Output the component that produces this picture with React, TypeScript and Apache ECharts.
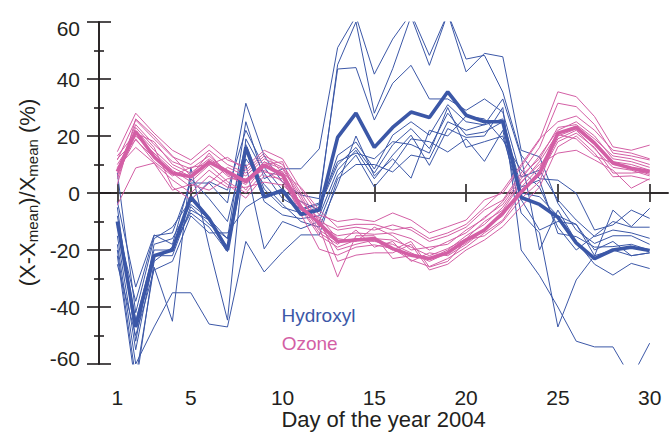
import React, { useEffect, useRef } from "react";
import * as echarts from "echarts";

const DAYS = [1, 2, 3, 4, 5, 6, 7, 8, 9, 10, 11, 12, 13, 14, 15, 16, 17, 18, 19, 20, 21, 22, 23, 24, 25, 26, 27, 28, 29, 30];
const X_TICKS = [1, 5, 10, 15, 20, 25, 30];
const ZERO_DAYS = [1, 30];
const ZERO_VALUE = 0;

const HYDROXYL_MEAN = [-10, -47, -22, -20, -1.5, -9, -20, 16, -1.4, 1, -7.5, -6, 19.5, 28, 16, 23, 28.4, 26.5, 35.5, 27.3, 25, 25, -1.6, -4, -8.5, -17.5, -23, -20, -19, -20.2];
const OZONE_MEAN = [7.5, 21.5, 12.7, 7, 5.7, 10.8, 7.5, 4, 9.8, 6.3, -5, -10.6, -17, -16.5, -16, -19.5, -21.8, -23, -21, -16.5, -13, -7, 0.3, 7, 21, 23, 17.5, 10.5, 8.7, 7.5];

const HYDROXYL_1 = [-5, -52, -18, -16, -4, -9, -16, 25, 5, 8.5, 8.5, 15.5, 51, 62, 41.7, 54, 63, 48.3, 63, 47, 48.3, 35.4, 13.3, 5, 4.5, -0.1, -13, -11.2, -6, -8.9];
const HYDROXYL_2 = [-12, -38, -15, -14, 3.5, 3.5, -3.5, 31.5, 13, 3.8, -0.7, -2, 43.5, 44, 25.6, 38.5, 44.8, 33, 33, 29, 33, 28.4, 5.6, 8, -2.4, -9.5, -15.3, -13, -14, -15.9];
const HYDROXYL_3 = [-20, -65, -26, -45, 9, -19, -44.6, 19, 7, -2, -5.6, -3.5, 45, 60, 28, 43.6, 62, 44.8, 63, 42.5, 49, 47.8, 15, 12.7, -3.6, -13, -17.7, -15, -15, -18];
const HYDROXYL_4 = [7, -42, -16, -12, -2.4, 4, 1, 22, 9, 1, -3, -6, 13.2, 17.9, 8.4, 20.3, 25, 20.3, 31, 25, 23.9, 26, 2.1, 4.5, -14.2, -15.3, -19, -18.8, -18, -20];
const HYDROXYL_5 = [-3, -33, -14.7, -18, 5, -2, -10, 17, 1.4, -5, -7, -5, 9.9, 16, 7, 16.9, 22.6, 15.6, 28, 20.3, 21.4, 25, 0, -1.3, -8, -11, -22, -20, -22, -21];
const HYDROXYL_6 = [-8, -45, -20, -20, -6, -9.5, -19, 15, -3, -7.7, -9, -8, 8, 15, 5, 13.3, 20.3, 9.7, 22.6, 19.5, 20, 30, -20, -29, -40, -52, -54, -54, -65, -52.7];
const HYDROXYL_7 = [-15, -55, -22, -22, -4.8, -11, -16, 10, -19.6, -10, -12.5, -10, 6, 13.3, 2.1, 9.7, 19, 18, 14.4, 19, 11.1, 22, -7, -14, -47, -30.5, -22, -6, -11.8, -5.4];
const HYDROXYL_8 = [-18, -60, -47, -35, -35, -46, -47, -17, -27.7, -20.7, -14.7, -14.7, 5, 10, 10, 7.4, 13.3, 12, 25, 22, 24, 33, 12.7, -20, -6, -17, -25, -28.8, -24.7, -26.5];
const HYDROXYL_9 = [-22, -68, -24, -19, -7, -12, -20.6, 12, 3, -4, -10, -12, 2.9, 20, 6, 12, 5.2, 22, 20, 27, 26, 18.6, 8, 2, -12, -20, -15, -10, -12, -12];
const HYDROXYL_10 = [-25, -50, -27, -24, -8, -14, -14, -5, -1, 0, -6, -4, 11, 14, 12, 18, 17, 14, 30, 16, 18, 20, -2.3, -13, -10, -11, -20, -17, -22, -21];

const OZONE_1 = [14.5, 28, 21, 15, 11.6, 17, 11.6, 9.2, 15, 12, 1.4, -7.7, -10, -9.1, -10, -7, -9.5, -14, -11.8, -9.5, -2.4, 0, 9.2, 18.6, 35.5, 33.8, 26.8, 16.2, 15, 16.8];
const OZONE_2 = [11.6, 25.6, 19, 12.7, 10, 15, 10, 7, 13, 10, 0, -10, -13, -12, -13, -11.2, -13, -17, -15, -12, -6, -2.5, 7, 16, 31.5, 30.3, 24, 14, 13, 11.6];
const OZONE_3 = [8, 24, 17, 11, 8.5, 13, 7.4, 4.6, 10.9, 8.5, -2.1, -11.5, -15, -14, -14.5, -14, -16, -20, -17, -14, -8.5, -4, 5, 13, 22, 25, 20, 12, 11, 9];
const OZONE_4 = [5, 22, 15, 9, 5.7, 11.5, 6, 3, 9, 7.5, -4, -13, -17.2, -16, -16, -16.5, -19, -22, -19.5, -16, -10, -6, 3.5, 11, 21, 23.5, 18, 11, 10, 8];
const OZONE_5 = [10, 20, 14, 8, 4, 9.8, 4, 0, 7.4, 6, -5.6, -15, -19, -16.5, -17, -18, -21, -24, -21, -17.5, -12.5, -8, 2, 9, 20, 22.5, 17, 10, 9, 7];
const OZONE_6 = [12, 18.6, 12.3, 7, 2.1, 8, 3, -1.8, 6, 5, -7.4, -19.7, -21.8, -19, -18.2, -19.5, -23.5, -25.8, -23, -19, -14, -9.5, 0, 7, 19, 22, 15.5, 9, 8, 6];
const OZONE_7 = [9, 16, 10.5, 4.6, 0, 6, 2, 2, 3.8, 2.8, -3, -9, -24, -21.8, -21, -21, -18, -27, -25, -20, -16.5, -11.8, -4.8, 2.1, 16.2, 20, 14, 5.7, 6, 4.6];
const OZONE_8 = [6, 23, 16, 2.1, -2.4, 3.5, 9, 6, 12, 9, -1, -12, -29.5, -15, -15, -23, -22, -23, -20, -15, -11, -5, 4, 10, 14, 15, 11.6, 8, 1.7, 5];
const OZONE_9 = [-4.2, 8.8, 10.5, 1, 3, 1, 5, 5, 8, 4, -6, -8.5, -16, -17, -12, -15, -20, -19, -18, -13, -9, -3, 6, 12, 23, 24, 19, 13, 12, 10];
const OZONE_10 = [13, 21, 18, 10, 7, 12, 8, 1, 10, 11, -5, -14, -18, -13, -19, -17, -24, -21, -22, -18, -13, -7, 1, 6, 18, 21, 16, 7, 7, 7.5];
const OZONE_11 = [7, 19, 11, 6, 9, 10, 12.5, 8, 14, 7, 2, -6, -12, -11, -11, -13, -12, -16, -14, -11, -5, 1, 10, 19, 25, 27, 22, 15, 14, 12];
const OZONE_12 = [3, 26, 20, 13, 6, 14, 6.5, 4, 11, 6.5, -4.5, -11, -20, -18, -16.5, -20, -17, -26, -24, -16.5, -15, -10, -2, 4, 20.5, 19, 13, 10.5, 8.5, 6.5];

const HYDROXYL_RUNS = [HYDROXYL_1, HYDROXYL_2, HYDROXYL_3, HYDROXYL_4, HYDROXYL_5, HYDROXYL_6, HYDROXYL_7, HYDROXYL_8, HYDROXYL_9, HYDROXYL_10];
const OZONE_RUNS = [OZONE_1, OZONE_2, OZONE_3, OZONE_4, OZONE_5, OZONE_6, OZONE_7, OZONE_8, OZONE_9, OZONE_10, OZONE_11, OZONE_12];

const X_TITLE = "Day of the year 2004";

const BLUE = "#3b57a7";
const PINK = "#d35fa5";
const INK = "#231f20";
const FONT = "'Liberation Sans', Arial, Helvetica, sans-serif";

function pairs(vals: number[]) {
  return DAYS.map((d, i) => [d, vals[i]]);
}

function lineSeries(name: string, vals: number[], color: string, width: number, z: number) {
  return {
    name,
    type: "line",
    data: pairs(vals),
    symbol: "none",
    silent: true,
    z,
    lineStyle: { color, width },
    itemStyle: { color },
    emphasis: { disabled: true },
  };
}

export default function App() {
  const ref = useRef<HTMLDivElement>(null);

  useEffect(() => {
    if (!ref.current) return;
    const chart = echarts.init(ref.current, null, { renderer: "svg" });

    const axisLineStyle = { color: INK, width: 1.6 };
    const xCommon = {
      type: "value",
      min: 0,
      max: 31,
      splitLine: { show: false },
      axisLine: { show: true, lineStyle: axisLineStyle },
      axisTick: { show: true, inside: false, length: 9, customValues: X_TICKS, lineStyle: axisLineStyle },
    };
    const yCommon = {
      type: "value",
      min: -60,
      max: 60,
      interval: 20,
      splitLine: { show: false },
      axisLine: { show: true, lineStyle: axisLineStyle },
      axisTick: { show: true, inside: false, length: 12, lineStyle: axisLineStyle },
      minorTick: { show: true, splitNumber: 2, length: 5, lineStyle: axisLineStyle },
      minorSplitLine: { show: false },
    };

    const labelBase = { fontSize: 21, fontFamily: FONT, color: INK };

    chart.setOption({
      animation: false,
      grid: { left: 99, right: 2, top: 22, bottom: 68, containLabel: false, outerBoundsMode: "none" },
      xAxis: [
        {
          ...xCommon,
          position: "bottom",
          axisLabel: { ...labelBase, margin: 23, customValues: X_TICKS },
        },
        {
          ...xCommon,
          position: "top",
          axisLabel: { show: false },
        },
      ],
      yAxis: [
        {
          ...yCommon,
          position: "left",
          axisLabel: {
            ...labelBase,
            margin: 19,
            formatter: (v: number) => (v === 60 ? `{top|${v}}` : v === -60 ? `{bot|${v}}` : `${v}`),
            rich: {
              top: { ...labelBase, padding: [12, 0, 0, 0] },
              bot: { ...labelBase, padding: [0, 0, 11, 0] },
            },
          },
        },
        {
          ...yCommon,
          position: "right",
          axisLabel: { show: false },
        },
      ],
      graphic: [
        {
          type: "text",
          x: 27,
          y: 192.5,
          rotation: Math.PI / 2,
          silent: true,
          style: {
            text: "{m|(X-X}{s|mean}{m|)/X}{s|mean}{m| (%)}",
            align: "center",
            verticalAlign: "middle",
            fill: INK,
            rich: {
              m: { fontSize: 22, fontFamily: FONT, fill: INK, lineHeight: 26 },
              s: { fontSize: 15, fontFamily: FONT, fill: INK, lineHeight: 21, verticalAlign: "bottom" },
            },
          },
        },
        {
          type: "text",
          x: 383.5,
          y: 419.5,
          silent: true,
          style: { text: X_TITLE, fontSize: 22, fontFamily: FONT, fill: INK, align: "center", verticalAlign: "middle" },
        },
        {
          type: "text",
          x: 281.5,
          y: 315,
          silent: true,
          style: { text: "Hydroxyl", fontSize: 19, fontFamily: FONT, fill: BLUE, align: "left", verticalAlign: "middle" },
        },
        {
          type: "text",
          x: 281.7,
          y: 343.4,
          silent: true,
          style: { text: "Ozone", fontSize: 19, fontFamily: FONT, fill: PINK, align: "left", verticalAlign: "middle" },
        },
      ],
      series: [
        {
          name: "zero",
          type: "line",
          data: ZERO_DAYS.map((d) => [d, ZERO_VALUE]),
          symbol: "none",
          silent: true,
          z: 1,
          lineStyle: { color: "#555555", width: 1.2 },
        },
        ...HYDROXYL_RUNS.map((r, i) => lineSeries(`Hydroxyl ${i + 1}`, r, BLUE, 1, 2)),
        ...OZONE_RUNS.map((r, i) => lineSeries(`Ozone ${i + 1}`, r, PINK, 1, 3)),
        lineSeries("Hydroxyl mean", HYDROXYL_MEAN, BLUE, 3.6, 4),
        lineSeries("Ozone mean", OZONE_MEAN, PINK, 3.6, 5),
      ],
    });

    return () => chart.dispose();
  }, []);

  return <div ref={ref} style={{ position: "absolute", left: 0, top: 0, width: 670, height: 432 }} />;
}
